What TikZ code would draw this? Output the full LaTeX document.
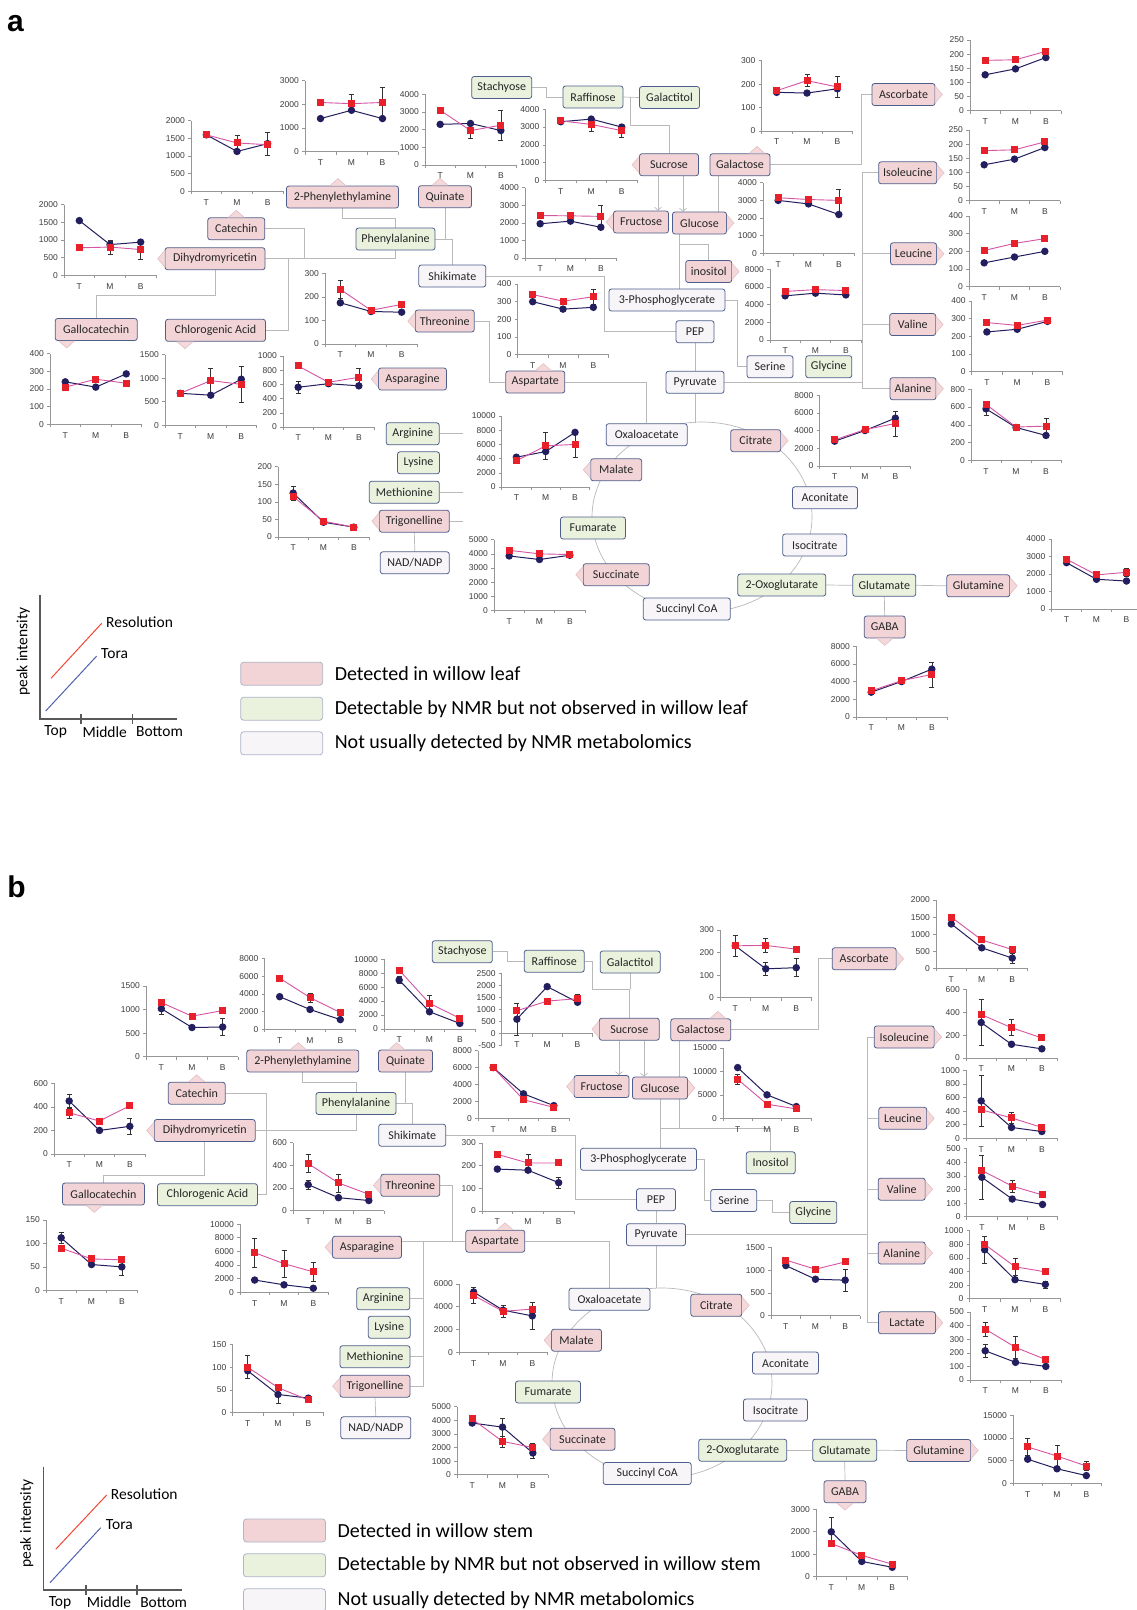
\documentclass[tikz,border=0pt]{standalone}
\usepackage{fontspec}
\setmainfont{Carlito}
\newfontfamily\chartfont{Liberation Sans}
\usetikzlibrary{positioning,calc,arrows.meta,backgrounds}

\definecolor{detfill}{RGB}{242,212,214}
\definecolor{nmrfill}{RGB}{234,241,221}
\definecolor{othfill}{RGB}{248,245,249}
\definecolor{nodeline}{RGB}{78,94,140}
\definecolor{legline}{RGB}{175,180,200}
\definecolor{tipfill}{RGB}{244,216,218}
\definecolor{tipline}{RGB}{226,186,190}
\definecolor{linkgrey}{RGB}{185,185,185}
\definecolor{toracol}{RGB}{35,31,95}
\definecolor{resline}{RGB}{214,84,164}
\definecolor{rescol}{RGB}{232,32,42}
\definecolor{axisgrey}{RGB}{150,150,150}
\definecolor{tickgrey}{RGB}{60,60,60}
\definecolor{keyred}{RGB}{240,70,50}
\definecolor{keyblue}{RGB}{80,96,176}

\tikzset{
  met/.style={draw=nodeline, line width=0.8pt, rounded corners=2.5pt,
    font=\fontsize{12}{14}\selectfont, text=black!85,
    inner xsep=4pt, inner ysep=0pt, minimum height=22pt},
  det/.style={met, fill=detfill},
  nmr/.style={met, fill=nmrfill},
  oth/.style={met, fill=othfill},
  link/.style={draw=linkgrey, line width=0.7pt},
  arr/.style={link, -{Straight Barb[length=3pt,width=7pt]}},
  tcaline/.style={draw=linkgrey, line width=0.7pt},
  tipshape/.style={fill=tipfill, draw=tipline, line width=0.5pt},
  chartaxis/.style={draw=axisgrey, line width=0.6pt},
  ticklabel/.style={font=\chartfont\fontsize{8.5}{10}\selectfont, text=tickgrey, inner sep=0pt},
  errbar/.style={draw=black!80, line width=0.6pt},
  toraplot/.style={draw=toracol, line width=1pt},
  resplot/.style={draw=resline, line width=0.9pt},
  toradot/.style={circle, fill=toracol, minimum size=7.5pt, inner sep=0pt},
  resdot/.style={rectangle, fill=rescol, minimum size=7pt, inner sep=0pt},
  legbox/.style={draw=legline, line width=0.8pt, rounded corners=3pt,
    minimum width=82pt, minimum height=23pt},
  legtext/.style={font=\fontsize{20}{24}\selectfont, inner sep=0pt},
  keytext/.style={font=\fontsize{15.5}{18}\selectfont, inner sep=0pt},
  keyaxis/.style={draw=black!65, line width=1.1pt},
  panellabel/.style={font=\chartfont\bfseries\fontsize{30}{30}\selectfont, inner sep=0pt}
}

% chart: x, y of lowest value, width, height, ymin, ymax, step, Tora {v/err}, Resolution {v/err}
\newcommand\chart[9]{%
  \begin{scope}[shift={(#1,#2)}]
    \pgfmathsetmacro\sy{(#4)/((#6)-(#5))}
    \pgfmathsetmacro\yz{(#5)*\sy}
    \pgfmathtruncatemacro\nsteps{((#6)-(#5))/(#7)}
    \draw[chartaxis] (0,0) -- (0,-#4);
    \draw[chartaxis] (0,\yz) -- (#3,\yz);
    \foreach \k in {0,1,2,3}
      \draw[chartaxis] ({\k*(#3)/3},\yz) -- ++(0,3);
    \foreach \k in {0,...,\nsteps} {
      \pgfmathtruncatemacro\val{(#5)+\k*(#7)}
      \pgfmathsetmacro\yy{-\k*(#7)*\sy}
      \draw[chartaxis] (-3,\yy) -- (0,\yy);
      \node[ticklabel, anchor=east] at (-6,\yy) {\val};
    }
    \foreach \k/\lab in {1/T,3/M,5/B}
      \node[ticklabel] at ({\k*(#3)/6},{\yz+11}) {\lab};
    \foreach \val/\err [count=\cnt] in {#8} {
      \pgfmathsetmacro\yy{((#5)-(\val))*\sy}
      \pgfmathsetmacro\ye{(\err)*\sy}
      \pgfmathsetmacro\xx{(2*\cnt-1)*(#3)/6}
      \coordinate (ta\cnt) at (\xx,\yy);
      \ifdim\ye pt>0.1pt
        \draw[errbar] (\xx,{\yy-\ye}) -- (\xx,{\yy+\ye});
        \draw[errbar] ({\xx-2.5},{\yy-\ye}) -- ++(5,0);
        \draw[errbar] ({\xx-2.5},{\yy+\ye}) -- ++(5,0);
      \fi
    }
    \foreach \val/\err [count=\cnt] in {#9} {
      \pgfmathsetmacro\yy{((#5)-(\val))*\sy}
      \pgfmathsetmacro\ye{(\err)*\sy}
      \pgfmathsetmacro\xx{(2*\cnt-1)*(#3)/6}
      \coordinate (rs\cnt) at (\xx,\yy);
      \ifdim\ye pt>0.1pt
        \draw[errbar] (\xx,{\yy-\ye}) -- (\xx,{\yy+\ye});
        \draw[errbar] ({\xx-2.5},{\yy-\ye}) -- ++(5,0);
        \draw[errbar] ({\xx-2.5},{\yy+\ye}) -- ++(5,0);
      \fi
    }
    \draw[toraplot] (ta1) -- (ta2) -- (ta3);
    \draw[resplot] (rs1) -- (rs2) -- (rs3);
    \foreach \cnt in {1,2,3} \node[toradot] at (ta\cnt) {};
    \foreach \cnt in {1,2,3} \node[resdot] at (rs\cnt) {};
  \end{scope}}

% small pointer on a metabolite box
\newcommand\nodetip[2]{\filldraw[tipshape, shift={(#1)}, rotate=#2] (0,-8) -- (7,0) -- (0,8);}

\begin{document}
\begin{tikzpicture}[x=1pt,y=-1pt]
\useasboundingbox (0,0) rectangle (1137,1610);

%%%%%%%%%%%%%%%%%%%% panel a %%%%%%%%%%%%%%%%%%%%
\node[panellabel] at (15.5,23.5) {a};

% charts
\chart{191}{191.3}{92}{70.6}{0}{2000}{500}{1600/0,1130/60,1350/320}{1600/0,1370/220,1320/0}
\chart{305}{151.7}{93}{71}{0}{3000}{1000}{1400/0,1750/0,1400/0}{2080/0,2030/380,2080/650}
\chart{64}{275.3}{92}{70.6}{0}{2000}{500}{1550/0,870/100,940/0}{780/0,800/200,730/280}
\chart{325}{344}{92}{70.7}{0}{300}{100}{175/0,138/0,135/0}{232/40,143/0,168/0}
\chart{50}{424.3}{91.5}{70.8}{0}{400}{100}{240/0,210/0,285/0}{210/0,255/0,232/0}
\chart{165}{425.3}{91.5}{70.6}{0}{1500}{500}{680/0,640/0,980/0}{680/0,950/270,870/380}
\chart{283}{427}{91}{71}{0}{1000}{200}{560/80,610/0,580/0}{860/0,630/0,700/130}
\chart{278}{537}{91}{70.3}{0}{200}{50}{125/20,42/0,28/0}{115/0,45/0,28/0}
\chart{425}{165}{91}{70.7}{0}{4000}{1000}{2300/0,2350/0,1950/0}{3100/0,1950/420,2250/850}
\chart{545.5}{180.3}{91.5}{71}{0}{4000}{1000}{3300/0,3450/0,3000/0}{3350/0,3150/400,2800/350}
\chart{525}{258}{91}{70.3}{0}{4000}{1000}{1950/0,2100/0,1750/0}{2420/0,2400/0,2370/650}
\chart{517.5}{354.7}{91}{70.7}{0}{400}{100}{300/0,258/0,268/0}{340/0,303/0,328/40}
\chart{761.5}{131}{91}{70.3}{0}{300}{100}{165/0,162/0,180/0}{172/0,215/25,188/45}
\chart{763}{253.3}{91}{70.6}{0}{4000}{1000}{3000/0,2800/0,2200/0}{3150/0,3050/0,3000/650}
\chart{770}{340}{91}{70.7}{0}{8000}{2000}{5000/0,5300/0,5100/0}{5500/0,5700/0,5600/0}
\chart{970}{110.7}{91}{70.7}{0}{250}{50}{127/0,148/0,188/0}{178/0,180/0,210/0}
\chart{969}{200.7}{91}{70.7}{0}{250}{50}{127/0,147/0,188/0}{177/0,180/0,208/10}
\chart{969}{286.7}{91}{70.7}{0}{400}{100}{135/0,168/0,200/0}{205/0,245/0,272/0}
\chart{971.7}{371.7}{91}{70.7}{0}{400}{100}{225/0,240/0,285/0}{278/15,262/0,292/0}
\chart{971}{460.3}{90}{71}{0}{800}{200}{580/70,370/0,280/0}{630/0,375/0,385/90}
\chart{819.5}{466}{91}{71}{0}{8000}{2000}{2800/0,4000/0,5400/0}{2950/0,4100/0,4800/1400}
\chart{1051.5}{609}{90}{70}{0}{4000}{1000}{2650/0,1700/0,1600/0}{2850/0,1950/0,2100/250}
\chart{856}{717}{91}{71}{0}{8000}{2000}{2800/0,4000/0,5400/0}{2950/0,4100/0,4800/1400}
\chart{501.7}{487}{88}{71}{0}{10000}{2000}{4200/0,5000/0,7700/0}{3700/0,5800/1900,6000/1800}
\chart{494}{610.3}{91}{70.6}{0}{5000}{1000}{3850/0,3600/0,3900/0}{4250/0,4000/0,3950/0}

% metabolites
\node[nmr, minimum width=60] (staA) at (501.7,87.5) {Stachyose};
\node[nmr, minimum width=60] (rafA) at (593,97) {Raffinose};
\node[nmr, minimum width=60] (gctA) at (669.5,97.5) {Galactitol};
\node[det, minimum width=59] (sucA) at (669,164.7) {Sucrose};
\node[det, minimum width=60] (galA) at (740,164.8) {Galactose};
\node[det, minimum width=55] (fruA) at (641,222) {Fructose};
\node[det, minimum width=54] (glcA) at (699.5,223) {Glucose};
\node[det, minimum width=46] (inoA) at (708.7,271.5) {inositol};
\node[oth, minimum width=116] (pgA) at (667,300) {3-Phosphoglycerate};
\node[oth, minimum width=38] (pepA) at (695,331.7) {PEP};
\node[oth, minimum width=58] (pyrA) at (695,382.3) {Pyruvate};
\node[oth, minimum width=67] (shkA) at (452.3,276) {Shikimate};
\node[det, minimum width=53] (quiA) at (445,196.7) {Quinate};
\node[nmr, minimum width=79] (pheA) at (395.5,239) {Phenylalanine};
\node[det, minimum width=112] (peaA) at (342.5,197) {2-Phenylethylamine};
\node[det, minimum width=59] (thrA) at (444.7,321) {Threonine};
\node[det, minimum width=59] (aspA) at (535.3,382) {Aspartate};
\node[det, minimum width=68] (asnA) at (412.5,379) {Asparagine};
\node[det, minimum width=57] (catA) at (236.3,228.8) {Catechin};
\node[det, minimum width=100] (dhmA) at (215,258.7) {Dihydromyricetin};
\node[det, minimum width=82] (gcatA) at (96.2,329.5) {Gallocatechin};
\node[det, minimum width=100] (cgaA) at (215.5,330.3) {Chlorogenic Acid};
\node[nmr, minimum width=53] (argA) at (412.7,433.8) {Arginine};
\node[nmr, minimum width=42] (lysA) at (418.5,462.8) {Lysine};
\node[nmr, minimum width=70] (metA) at (404.3,492.2) {Methionine};
\node[det, minimum width=70] (triA) at (414.3,521.2) {Trigonelline};
\node[oth, minimum width=69] (nadA) at (414.8,562.8) {NAD/NADP};
\node[oth, minimum width=81] (oaaA) at (646.7,434.7) {Oxaloacetate};
\node[det, minimum width=50] (citA) at (755.7,440.7) {Citrate};
\node[det, minimum width=51] (malA) at (616.2,469.8) {Malate};
\node[nmr, minimum width=65] (fumA) at (593,528) {Fumarate};
\node[det, minimum width=66] (suaA) at (616.2,574.7) {Succinate};
\node[oth, minimum width=87] (scaA) at (686.8,609) {Succinyl CoA};
\node[nmr, minimum width=88] (oxoA) at (781.8,585) {2-Oxoglutarate};
\node[oth, minimum width=64] (ictA) at (814.7,545) {Isocitrate};
\node[oth, minimum width=65] (acoA) at (825,497.8) {Aconitate};
\node[nmr, minimum width=63] (gluA) at (884.3,585.3) {Glutamate};
\node[det, minimum width=63] (glnA) at (978.3,585.8) {Glutamine};
\node[det, minimum width=41] (gabA) at (884.7,627) {GABA};
\node[det, minimum width=46] (alaA) at (913,388.7) {Alanine};
\node[oth, minimum width=46] (serA) at (770,366.7) {Serine};
\node[nmr, minimum width=46] (glyA) at (828.8,366.7) {Glycine};
\node[det, minimum width=63] (ascA) at (903.5,94.5) {Ascorbate};
\node[det, minimum width=58] (isoA) at (907.7,172.8) {Isoleucine};
\node[det, minimum width=46] (leuA) at (913.5,253.8) {Leucine};
\node[det, minimum width=46] (valA) at (912.7,324.5) {Valine};

% pointers
\nodetip{sucA.west}{180}
\nodetip{$(galA.north)+(17,0)$}{90}
\nodetip{fruA.west}{180}
\nodetip{glcA.east}{0}
\nodetip{inoA.east}{0}
\nodetip{$(quiA.north)+(-5,0)$}{90}
\nodetip{$(peaA.north)+(-4.5,0)$}{90}
\nodetip{thrA.west}{180}
\nodetip{$(aspA.north)+(8,0)$}{90}
\nodetip{asnA.west}{180}
\nodetip{catA.north}{90}
\nodetip{dhmA.west}{180}
\nodetip{$(gcatA.south)+(-29.5,0)$}{-90}
\nodetip{$(cgaA.south)+(-30.5,0)$}{-90}
\nodetip{triA.west}{180}
\nodetip{citA.east}{0}
\nodetip{malA.west}{180}
\nodetip{suaA.west}{180}
\nodetip{glnA.east}{0}
\nodetip{gabA.south}{-90}
\nodetip{alaA.east}{0}
\nodetip{ascA.east}{0}
\nodetip{isoA.east}{0}
\nodetip{leuA.east}{0}
\nodetip{valA.east}{0}

% legend
\node[legbox, fill=detfill] (lg1A) at (281.7,673.7) {};
\node[legbox, fill=nmrfill] (lg2A) at (281.7,708.7) {};
\node[legbox, fill=othfill] (lg3A) at (281.7,743.3) {};
\node[legtext, right=11.5pt of lg1A] {Detected in willow leaf};
\node[legtext, right=11.5pt of lg2A] {Detectable by NMR but not observed in willow leaf};
\node[legtext, right=11.5pt of lg3A] {Not usually detected by NMR metabolomics};

% key
\draw[keyaxis] (40,595) -- (40,719) -- (176.7,719);
\draw[keyaxis] (81,714) -- (81,724);
\draw[keyaxis] (132.7,714) -- (132.7,724);
\node[keytext, rotate=90] at (23.3,651.7) {peak intensity};
\node[keytext] at (55.7,731.7) {Top};
\node[keytext] at (104.7,731.7) {Middle};
\node[keytext] at (159.5,731.7) {Bottom};
\node[keytext, anchor=west] (resA) at (106,622.3) {Resolution};
\node[keytext, anchor=west] (torA) at (101,654) {Tora};
\draw[keyred, line width=1pt] (51,678.3) -- (101.7,623.3);
\draw[keyblue, line width=1pt] (45.7,711) -- (96.7,656);

%%%%%%%%%%%%%%%%%%%% panel b %%%%%%%%%%%%%%%%%%%%
\node[panellabel] at (16.5,886.5) {b};

% charts
\chart{146}{1056.7}{92}{70.7}{0}{1500}{500}{1020/130,620/0,630/180}{1150/0,860/0,980/0}
\chart{264.5}{1029.3}{91}{70.6}{0}{8000}{2000}{3700/0,2250/0,1100/0}{5800/0,3600/500,1900/0}
\chart{384}{1029}{91}{70}{0}{10000}{2000}{7000/500,2470/0,800/0}{8430/0,3670/1200,1530/0}
\chart{54}{1154}{91}{70.7}{0}{600}{200}{450/60,200/0,235/65}{350/50,280/0,410/0}
\chart{293}{1210.7}{91}{68}{0}{600}{200}{230/40,115/0,90/0}{415/80,245/80,145/0}
\chart{46}{1290.3}{91}{70.3}{0}{150}{50}{112/12,55/0,50/17}{90/0,67/0,65/0}
\chart{240}{1292.3}{88}{68.3}{0}{10000}{2000}{1800/0,1100/0,600/0}{5800/2100,4200/2000,3000/1400}
\chart{232.5}{1412.7}{91}{68.4}{0}{150}{50}{92/0,40/20,32/0}{100/25,55/0,28/0}
\chart{501.7}{1045.7}{91}{72.4}{-500}{2500}{500}{600/650,1950/0,1300/0}{950/0,1350/0,1450/200}
\chart{478}{1118.3}{91}{67.7}{0}{8000}{2000}{6000/0,2900/0,1500/0}{6000/0,2200/0,1300/0}
\chart{482}{1211}{92}{68}{0}{300}{100}{185/0,180/0,125/25}{250/0,212/40,212/0}
\chart{720}{997.7}{91.5}{67.7}{0}{300}{100}{230/45,128/30,133/40}{230/0,232/30,215/0}
\chart{723}{1118.3}{88}{70.7}{0}{15000}{5000}{10800/0,5000/0,2500/0}{8300/1000,3000/0,2000/0}
\chart{936}{968.3}{91.5}{68.3}{0}{2000}{500}{1300/0,600/0,300/150}{1500/0,830/0,550/0}
\chart{966}{1058}{91}{68.7}{0}{600}{200}{310/200,120/0,80/0}{380/0,265/70,175/0}
\chart{966}{1138.3}{91}{68}{0}{1000}{200}{550/380,160/0,100/0}{420/0,300/80,160/0}
\chart{966.7}{1216.7}{91}{68}{0}{500}{100}{290/160,130/0,90/0}{340/0,225/45,160/0}
\chart{969.5}{1298.7}{91}{68}{0}{1000}{200}{720/200,280/0,210/50}{800/0,470/130,395/0}
\chart{970}{1380}{91}{68}{0}{500}{100}{215/45,130/0,100/0}{375/50,240/80,150/0}
\chart{1013}{1483.3}{88}{68.3}{0}{15000}{5000}{5300/0,3200/0,1700/0}{8000/1900,6000/2400,3800/1000}
\chart{816}{1576.7}{91.5}{67.4}{0}{3000}{1000}{2000/650,680/0,420/0}{1480/0,950/0,560/0}
\chart{771}{1315.7}{89}{68.4}{0}{1500}{500}{1100/0,800/0,780/240}{1220/0,1020/0,1180/0}
\chart{459}{1352.3}{88}{68.3}{0}{6000}{2000}{5300/0,3700/0,3200/1200}{5000/700,3600/500,3800/600}
\chart{457}{1474.7}{91}{68}{0}{5000}{1000}{3800/0,3500/650,1600/400}{4100/0,2450/400,2000/300}

% metabolites
\node[nmr, minimum width=60] (staB) at (462.3,951.7) {Stachyose};
\node[nmr, minimum width=60] (rafB) at (554.2,961.2) {Raffinose};
\node[nmr, minimum width=60] (gctB) at (630.2,962) {Galactitol};
\node[det, minimum width=60] (sucB) at (629.3,1029.2) {Sucrose};
\node[det, minimum width=60] (galB) at (700.8,1029.8) {Galactose};
\node[det, minimum width=55] (fruB) at (601.5,1086.5) {Fructose};
\node[det, minimum width=55] (glcB) at (660,1088) {Glucose};
\node[oth, minimum width=116] (pgB) at (638.5,1159.3) {3-Phosphoglycerate};
\node[nmr, minimum width=49] (inoB) at (770.7,1162.8) {Inositol};
\node[oth, minimum width=39] (pepB) at (656,1199.7) {PEP};
\node[oth, minimum width=46] (serB) at (733.7,1200.5) {Serine};
\node[nmr, minimum width=47] (glyB) at (813.3,1212.5) {Glycine};
\node[oth, minimum width=59] (pyrB) at (656,1234.7) {Pyruvate};
\node[oth, minimum width=67] (shkB) at (412.2,1135.2) {Shikimate};
\node[det, minimum width=54] (quiB) at (405.5,1061) {Quinate};
\node[det, minimum width=112] (peaB) at (302.8,1061) {2-Phenylethylamine};
\node[det, minimum width=57] (catB) at (196.7,1093.2) {Catechin};
\node[nmr, minimum width=80] (pheB) at (356,1103.5) {Phenylalanine};
\node[det, minimum width=101] (dhmB) at (204.7,1130.5) {Dihydromyricetin};
\node[det, minimum width=82] (gcatB) at (103.5,1194) {Gallocatechin};
\node[nmr, minimum width=100] (cgaB) at (207.5,1194.7) {Chlorogenic Acid};
\node[det, minimum width=59] (thrB) at (410.3,1185.3) {Threonine};
\node[det, minimum width=69] (asnB) at (367,1247.2) {Asparagine};
\node[det, minimum width=59] (aspB) at (495.3,1241.2) {Aspartate};
\node[nmr, minimum width=53] (argB) at (383.3,1298.7) {Arginine};
\node[nmr, minimum width=42] (lysB) at (389.2,1327.2) {Lysine};
\node[nmr, minimum width=70] (metB) at (375,1356.7) {Methionine};
\node[det, minimum width=70] (triB) at (375,1386.2) {Trigonelline};
\node[oth, minimum width=70] (nadB) at (375.8,1427.8) {NAD/NADP};
\node[oth, minimum width=81] (oaaB) at (609.5,1299.3) {Oxaloacetate};
\node[det, minimum width=51] (citB) at (716.3,1305.3) {Citrate};
\node[det, minimum width=50] (malB) at (576.5,1340.2) {Malate};
\node[oth, minimum width=66] (acoB) at (785.5,1363) {Aconitate};
\node[nmr, minimum width=65] (fumB) at (548,1392) {Fumarate};
\node[oth, minimum width=64] (ictB) at (775.5,1410) {Isocitrate};
\node[det, minimum width=65] (suaB) at (582.5,1439.2) {Succinate};
\node[nmr, minimum width=88] (oxoB) at (742.7,1450.2) {2-Oxoglutarate};
\node[oth, minimum width=88] (scaB) at (647.2,1473.5) {Succinyl CoA};
\node[nmr, minimum width=64] (gluB) at (844.7,1450.2) {Glutamate};
\node[det, minimum width=64] (glnB) at (938.8,1450.5) {Glutamine};
\node[det, minimum width=42] (gabB) at (845,1491.7) {GABA};
\node[det, minimum width=47] (alaB) at (901.7,1253) {Alanine};
\node[det, minimum width=57] (lacB) at (907,1322.8) {Lactate};
\node[det, minimum width=64] (ascB) at (864.2,958.8) {Ascorbate};
\node[det, minimum width=60] (isoB) at (904.2,1037) {Isoleucine};
\node[det, minimum width=48] (leuB) at (902.8,1118.3) {Leucine};
\node[det, minimum width=47] (valB) at (901.7,1189.2) {Valine};

% pointers
\nodetip{sucB.west}{180}
\nodetip{$(galB.north)+(17,0)$}{90}
\nodetip{fruB.west}{180}
\nodetip{glcB.east}{0}
\nodetip{$(quiB.north)+(-8.8,0)$}{90}
\nodetip{$(peaB.north)+(-4.5,0)$}{90}
\nodetip{catB.north}{90}
\nodetip{dhmB.west}{180}
\nodetip{$(gcatB.south)+(-9.2,0)$}{-90}
\nodetip{thrB.west}{180}
\nodetip{asnB.west}{180}
\nodetip{$(aspB.north)+(9.7,0)$}{90}
\nodetip{triB.west}{180}
\nodetip{citB.east}{0}
\nodetip{malB.west}{180}
\nodetip{suaB.west}{180}
\nodetip{glnB.east}{0}
\nodetip{gabB.south}{-90}
\nodetip{alaB.east}{0}
\nodetip{lacB.east}{0}
\nodetip{ascB.east}{0}
\nodetip{isoB.east}{0}
\nodetip{leuB.east}{0}
\nodetip{valB.east}{0}

% legend
\node[legbox, fill=detfill] (lg1B) at (284.5,1530.5) {};
\node[legbox, fill=nmrfill] (lg2B) at (284.5,1565.3) {};
\node[legbox, fill=othfill] (lg3B) at (284.5,1600.3) {};
\node[legtext, right=11.5pt of lg1B] {Detected in willow stem};
\node[legtext, right=11.5pt of lg2B] {Detectable by NMR but not observed in willow stem};
\node[legtext, right=11.5pt of lg3B] {Not usually detected by NMR metabolomics};

% key
\draw[keyaxis] (43.3,1466.7) -- (43.3,1590) -- (181.7,1590);
\draw[keyaxis] (86,1585) -- (86,1595);
\draw[keyaxis] (137,1585) -- (137,1595);
\node[keytext, rotate=90] at (26.7,1523.3) {peak intensity};
\node[keytext] at (60,1602.3) {Top};
\node[keytext] at (109,1602.3) {Middle};
\node[keytext] at (163.7,1602.3) {Bottom};
\node[keytext, anchor=west] (resB) at (110.7,1494) {Resolution};
\node[keytext, anchor=west] (torB) at (105.7,1525) {Tora};
\draw[keyred, line width=1pt] (55.7,1549.3) -- (106.7,1495);
\draw[keyblue, line width=1pt] (50,1582.7) -- (100.7,1527.7);

%%%%%%%%%%%%%%%%%%%% connectors %%%%%%%%%%%%%%%%%%%%
\begin{scope}[on background layer]
\fill[white] (0,0) rectangle (1137,1610);

% panel a
\draw[tcaline] (702,517) ellipse [x radius=110, y radius=95];
\draw[link] (staA.east) -- ++(14,0) |- (rafA.west);
\draw[link] (rafA.east) -- (gctA.west);
\draw[link] ([xshift=7pt]rafA.east) |- (sucA.north |- 0,125) -- (sucA.north);
\draw[arr] (sucA.south -| 658,0) -- (fruA.north -| 658,0);
\draw[arr] (sucA.south -| 683,0) -- (glcA.north -| 683,0);
\draw[link] (galA.south -| 718,0) -- (glcA.north -| 718,0);
\draw[link] (glcA.south -| 679,0) -- (pgA.north -| 679,0);
\draw[link] (679,244) -| (inoA.north);
\draw[link] (pgA.east) -- ++(12,0) |- (serA.west);
\draw[link] (shkA.east) -- ++(118,0) |- (pepA.west);
\draw[link] (pepA.south) -- (pyrA.north);
\draw[link] (pyrA.east) -- (pyrA.east -| 862,0);
\draw[link] (isoA.west) -- (isoA.west -| 862,0) -- (alaA.west -| 862,0) -- (alaA.west);
\draw[link] (leuA.west) -- (leuA.west -| 862,0);
\draw[link] (valA.west) -- (valA.west -| 862,0);
\draw[link] (galA.east) -- ++(91,0) |- (ascA.west);
\draw[link] (thrA.east) -- ++(15,0) |- (aspA.west);
\draw[link] (aspA.east) -| (oaaA.north);
\draw[link] (pyrA.south) -- (pyrA.south |- 0,422.5);
\draw[link] (argA.east) -- (argA.east -| 463,0);
\draw[link] (metA.east) -- (metA.east -| 463,0);
\draw[link] (triA.east) -- (triA.east -| 463,0);
\draw[link] (triA.south) -- (nadA.north);
\draw[link] (catA.east) -| (dhmA.east -| 304,0);
\draw[link] (dhmA.east) -| (pheA.south);
\draw[link] (peaA.south) -- ++(0,10) -| (pheA.north);
\draw[link] (cgaA.east) -| (dhmA.east -| 288,0);
\draw[link] (pheA.east) -| (shkA.north);
\draw[link] (quiA.south) -- (quiA.south |- pheA.east);
\draw[link] (dhmA.south) -- ++(0,25) -| (gcatA.north);
\draw[link] (oxoA.east) -- (gluA.west);
\draw[link] (gluA.east) -- (glnA.west);
\draw[link] (gluA.south) -- (gabA.north);

% panel b
\draw[tcaline] (662,1383) ellipse [x radius=110, y radius=95];
\draw[link] (staB.east) -- ++(15,0) |- (rafB.west);
\draw[link] (rafB.east) -- ++(7.5,0) |- (sucB.north |- 0,989) -- (sucB.north);
\draw[link] (gctB.south) -- (gctB.south |- 0,989);
\draw[arr] (sucB.south -| 619,0) -- (fruB.north -| 619,0);
\draw[arr] (sucB.south -| 644,0) -- (glcB.north -| 644,0);
\draw[link] (galB.south -| 679,0) -- (679,1128.3);
\draw[link] (glcB.south) -- (glcB.south |- pgB.north);
\draw[link] (660,1128.3) -| (inoB.north);
\draw[link] (galB.east) -- (galB.east -| 818,0) |- (ascB.west);
\draw[link] (shkB.east) -- ++(129,0) |- (pepB.west);
\draw[link] (peaB.south) -- ++(0,10) -| (pheB.north);
\draw[link] (pheB.east) -| (shkB.north);
\draw[link] (quiB.south) -- (quiB.south |- pheB.east);
\draw[link] (catB.east) -| (dhmB.east -| 266,0);
\draw[link] (cgaB.east) -| (dhmB.east -| 266,0);
\draw[link] (dhmB.east) -| (pheB.south);
\draw[link] (dhmB.south) -- ++(0,33) -| (gcatB.north);
\draw[link] (thrB.east) -- ++(12,0) |- (aspB.west);
\draw[link] (asnB.east |- aspB.west) -- (aspB.west);
\draw[link] (argB.east) -- (argB.east -| 423,0);
\draw[link] (metB.east) -- (metB.east -| 423,0);
\draw[link] (triB.east) -- (triB.east -| 423,0) -- (aspB.west -| 423,0);
\draw[link] (triB.south) -- (nadB.north);
\draw[link] (pgB.east) -- ++(7,0) |- (serB.west);
\draw[link] (serB.east) -- ++(15.6,0) |- (glyB.west);
\draw[link] (pepB.south) -- (pyrB.north);
\draw[link] (pyrB.east) -- (pyrB.east -| 867,0);
\draw[link] (isoB.west) -- (isoB.west -| 867,0) -- (lacB.west -| 867,0) -- (lacB.west);
\draw[link] (leuB.west) -- (leuB.west -| 867,0);
\draw[link] (valB.west) -- (valB.west -| 867,0);
\draw[link] (alaB.west) -- (alaB.west -| 867,0);
\draw[link] (pyrB.south) -- (pyrB.south |- 0,1288);
\draw[link] (aspB.east) -| (oaaB.north);
\draw[link] (oxoB.east) -- (gluB.west);
\draw[link] (gluB.east) -- (glnB.west);
\draw[link] (gluB.south) -- (gabB.north);
\end{scope}

\end{tikzpicture}
\end{document}
